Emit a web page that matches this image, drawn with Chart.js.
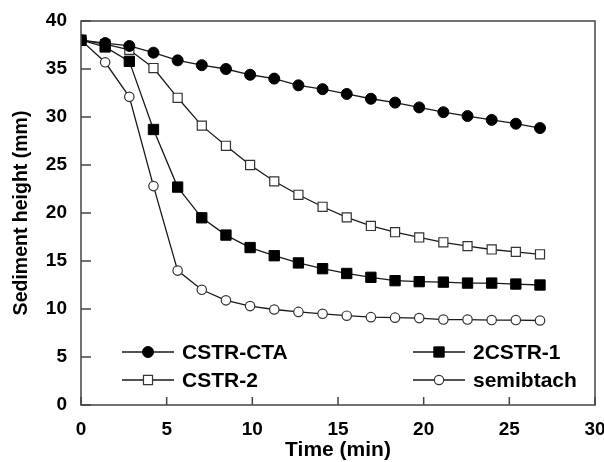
<!DOCTYPE html>
<html>
<head>
<meta charset="utf-8">
<script src="https://cdn.jsdelivr.net/npm/chart.js@4.4.1/dist/chart.umd.min.js"></script>
<style>
html,body{margin:0;padding:0;background:#fff;}
#wrap{width:604px;height:462px;position:relative;}
</style>
</head>
<body>
<div id="wrap"><canvas id="c" width="604" height="462"></canvas></div>
<script>
const times = [0,1.41,2.82,4.23,5.64,7.05,8.46,9.87,11.28,12.69,14.1,15.51,16.92,18.33,19.74,21.15,22.56,23.97,25.38,26.79];
const cstrCTA = [38,37.7,37.4,36.7,35.9,35.4,35.0,34.4,34.0,33.3,32.9,32.4,31.9,31.5,31.0,30.5,30.1,29.7,29.3,28.85];
const twoCSTR1 = [38,37.3,35.8,28.7,22.7,19.5,17.7,16.4,15.55,14.8,14.2,13.7,13.3,12.95,12.85,12.8,12.7,12.7,12.6,12.5];
const cstr2 = [38,37.6,37.0,35.1,32.0,29.1,27.0,25.0,23.3,21.9,20.65,19.55,18.65,18.0,17.45,16.95,16.55,16.2,15.95,15.7];
const semibtach = [38,35.7,32.1,22.8,14.0,12.0,10.9,10.3,9.95,9.7,9.5,9.3,9.15,9.1,9.05,8.9,8.9,8.85,8.85,8.8];
const xTicks = [0,5,10,15,20,25,30];
const yTicks = [0,5,10,15,20,25,30,35,40];

function pts(arr){ return arr.map((v,i)=>({x:times[i], y:v})); }

const LINE = '#1a1a1a';
const FONT = '"Liberation Sans", Arial, sans-serif';
function ds(label, arr, style, filled, r){
  return {label, data: pts(arr), borderColor: LINE, borderWidth: 1.3,
    pointStyle: style, pointRadius: r, pointHoverRadius: r,
    pointBackgroundColor: filled ? '#000' : '#fff', pointBorderColor: filled ? '#000' : '#333',
    pointBorderWidth: filled ? 1 : 1.2, fill: false, tension: 0};
}
const datasets = [
  ds('CSTR-CTA', cstrCTA, 'circle', true, 5.5),
  ds('2CSTR-1', twoCSTR1, 'rect', true, 7.3),
  ds('CSTR-2', cstr2, 'rect', false, 6.4),
  ds('semibtach', semibtach, 'circle', false, 4.7)
];
const legendPos = [
  {x:122, y:352}, {x:413, y:352}, {x:122, y:380}, {x:413, y:380}
];

const decor = {
  id:'decor',
  afterDatasetsDraw(chart){
    const ctx = chart.ctx, a = chart.chartArea;
    const xs = chart.scales.x, ys = chart.scales.y;
    ctx.save();
    ctx.strokeStyle = '#444'; ctx.lineWidth = 1.5;
    ctx.strokeRect(a.left, a.top, a.right - a.left, a.bottom - a.top);
    ctx.beginPath();
    xTicks.forEach(v=>{ const px = xs.getPixelForValue(v); ctx.moveTo(px, a.bottom); ctx.lineTo(px, a.bottom - 8); });
    yTicks.forEach(v=>{ const py = ys.getPixelForValue(v); ctx.moveTo(a.left, py); ctx.lineTo(a.left + 10, py); });
    ctx.stroke();
    chart.data.datasets.forEach((d,i)=>{
      const p = legendPos[i];
      ctx.strokeStyle = LINE; ctx.lineWidth = 1.3;
      ctx.beginPath(); ctx.moveTo(p.x, p.y); ctx.lineTo(p.x + 52, p.y); ctx.stroke();
      ctx.fillStyle = d.pointBackgroundColor; ctx.strokeStyle = d.pointBorderColor; ctx.lineWidth = d.pointBorderWidth;
      ctx.beginPath();
      if (d.pointStyle === 'circle') { ctx.arc(p.x + 26, p.y, d.pointRadius, 0, Math.PI*2); }
      else { const s = d.pointRadius * Math.SQRT1_2; ctx.rect(p.x + 26 - s, p.y - s, 2*s, 2*s); }
      ctx.fill(); ctx.stroke();
      ctx.fillStyle = '#000';
      ctx.font = 'bold 21px ' + FONT;
      ctx.textBaseline = 'middle'; ctx.textAlign = 'left';
      ctx.fillText(d.label, p.x + 60, p.y + 1);
    });
    ctx.restore();
  }
};

new Chart(document.getElementById('c'), {
  type: 'line',
  data: { datasets },
  options: {
    responsive: false, animation: false,
    layout: { padding: { top: 21, right: 9, left: 0, bottom: 0 } },
    plugins: { legend: { display: false }, tooltip: { enabled: false } },
    scales: {
      x: {
        type: 'linear', min: 0, max: 30,
        afterBuildTicks(s){ s.ticks = xTicks.map(v=>({value:v})); },
        afterFit(s){ s.height = 57; s.paddingLeft = 0; s.paddingRight = 0; },
        grid: { display: false, drawTicks: false },
        border: { display: false },
        ticks: { padding: 13, color: '#000', maxRotation: 0, autoSkip: false,
          font: { family: FONT, size: 19, weight: 'bold' } },
        title: { display: true, text: 'Time (min)', color: '#000', padding: { top: 0, bottom: -1 },
          font: { family: FONT, size: 21, weight: 'bold' } }
      },
      y: {
        type: 'linear', min: 0, max: 40,
        afterBuildTicks(s){ s.ticks = yTicks.map(v=>({value:v})); },
        afterFit(s){ s.width = 81; s.paddingTop = 0; s.paddingBottom = 0; },
        grid: { display: false, drawTicks: false },
        border: { display: false },
        ticks: { padding: 14, color: '#000', autoSkip: false,
          font: { family: FONT, size: 19, weight: 'bold' } },
        title: { display: true, text: 'Sediment height (mm)', color: '#000', padding: { top: 10, bottom: 0 },
          font: { family: FONT, size: 19.5, weight: 'bold' } }
      }
    }
  },
  plugins: [decor]
});
</script>
</body>
</html>
